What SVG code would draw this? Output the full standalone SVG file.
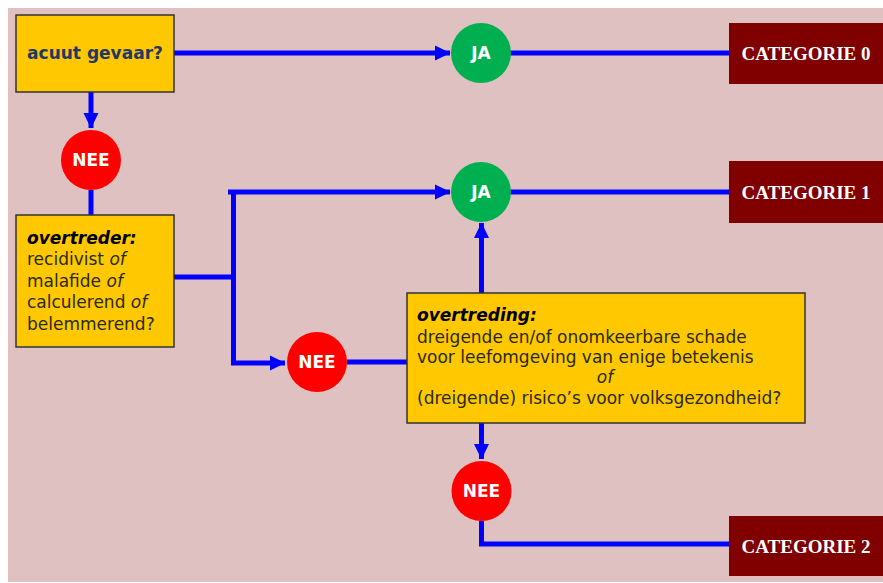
<svg xmlns="http://www.w3.org/2000/svg" width="883" height="583" viewBox="0 0 883 583">
<defs>
<marker id="arr" markerWidth="4" markerHeight="4" refX="3" refY="2" orient="auto" markerUnits="strokeWidth">
<path d="M0,0.5 L3.1,2 L0,3.5 Z" fill="#0000ff"/>
</marker>
</defs>
<style>
.bg{fill:#dfc1c1}
.q{fill:#ffc800;stroke:#333;stroke-width:1.5}
.cat{fill:#800000}
.cattxt{font-family:"Liberation Serif","DejaVu Serif",serif;font-weight:bold;font-size:19px;fill:#fff;text-anchor:middle}
.ja{fill:#00b050}
.nee{fill:#ff0000}
.ct{font-family:"DejaVu Sans",sans-serif;font-weight:bold;font-size:17px;fill:#fff;text-anchor:middle}
.t{font-family:"DejaVu Sans",sans-serif;font-size:17px;fill:#2a2a10}
.h{font-weight:bold;font-style:italic;fill:#000}
.i{font-style:italic}
.c{fill:none;stroke:#0000ff;stroke-width:5}
</style>
<rect class="bg" x="8" y="8" width="875" height="574"/>
<g id="connectors">
<path class="c" d="M174,53 H450" marker-end="url(#arr)"/>
<path class="c" d="M510,53 H729"/>
<path class="c" d="M91,92 V128" marker-end="url(#arr)"/>
<path class="c" d="M91,190 V215"/>
<path class="c" d="M174,277 H233.5"/>
<path class="c" d="M228,192 H450" marker-end="url(#arr)"/>
<path class="c" d="M233.5,192 V363 H285" marker-end="url(#arr)"/>
<path class="c" d="M347,362 H407"/>
<path class="c" d="M481.5,293 V223" marker-end="url(#arr)"/>
<path class="c" d="M510,192 H729"/>
<path class="c" d="M481.5,423 V459" marker-end="url(#arr)"/>
<path class="c" d="M481.5,521 V544 H729"/>
</g>
<g id="acuut">
<rect class="q" x="16" y="15" width="158" height="77"/>
<text x="95" y="59" text-anchor="middle" style="font-family:'DejaVu Sans',sans-serif;font-weight:bold;font-size:17px;fill:#1f3864">acuut gevaar?</text>
</g>
<g id="ja0">
<circle class="ja" cx="481" cy="53" r="30"/>
<text class="ct" x="481" y="59">JA</text>
</g>
<g id="cat0">
<rect class="cat" x="729" y="23" width="154" height="61"/>
<text class="cattxt" x="806" y="60">CATEGORIE 0</text>
</g>
<g id="nee1">
<circle class="nee" cx="91" cy="160" r="30"/>
<text class="ct" x="91" y="166">NEE</text>
</g>
<g id="overtreder">
<rect class="q" x="16" y="215" width="158" height="132"/>
<text class="t" x="27" y="244"><tspan class="h">overtreder:</tspan></text>
<text class="t" x="27" y="265">recidivist <tspan class="i">of</tspan></text>
<text class="t" x="27" y="287">malafide <tspan class="i">of</tspan></text>
<text class="t" x="27" y="308">calculerend <tspan class="i">of</tspan></text>
<text class="t" x="27" y="330">belemmerend?</text>
</g>
<g id="ja1">
<circle class="ja" cx="481" cy="192" r="30"/>
<text class="ct" x="481" y="198">JA</text>
</g>
<g id="cat1">
<rect class="cat" x="729" y="161" width="154" height="62"/>
<text class="cattxt" x="806" y="199">CATEGORIE 1</text>
</g>
<g id="nee2">
<circle class="nee" cx="317" cy="362" r="30"/>
<text class="ct" x="317" y="368">NEE</text>
</g>
<g id="overtreding">
<rect class="q" x="407" y="293" width="398" height="130"/>
<text class="t" x="417" y="321"><tspan class="h">overtreding:</tspan></text>
<text class="t" x="417" y="343">dreigende en/of onomkeerbare schade</text>
<text class="t" x="417" y="363">voor leefomgeving van enige betekenis</text>
<text class="t i" x="605" y="383" text-anchor="middle">of</text>
<text class="t" x="417" y="404">(dreigende) risico’s voor volksgezondheid?</text>
</g>
<g id="nee3">
<circle class="nee" cx="481.5" cy="491" r="30"/>
<text class="ct" x="481.5" y="497">NEE</text>
</g>
<g id="cat2">
<rect class="cat" x="729" y="516" width="154" height="60"/>
<text class="cattxt" x="806" y="553">CATEGORIE 2</text>
</g>
</svg>
